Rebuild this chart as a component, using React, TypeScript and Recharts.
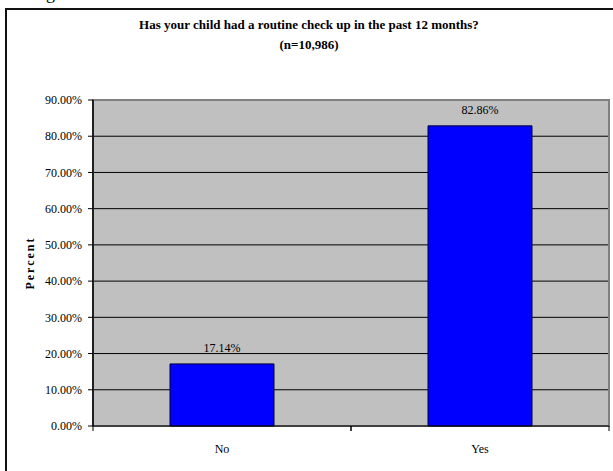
import React from 'react';
import { BarChart, Bar, XAxis, YAxis, CartesianGrid, LabelList, ReferenceArea } from 'recharts';

const categories = ['No', 'Yes'];
const percentValues = [17.14, 82.86];
const yTicks = [0, 10, 20, 30, 40, 50, 60, 70, 80, 90];
const gridValues = [10, 20, 30, 40, 50, 60, 70, 80];
const titleLines = ['Has your child had a routine check up in the past 12 months?', '(n=10,986)'];
const yAxisTitle = 'Percent';

const data = categories.map((c, i) => ({ cat: c, value: percentValues[i] }));

const FONT = "'Liberation Serif', 'DejaVu Serif', serif";

const CategoryTick = (props: any) => {
  const { x, y, payload } = props;
  const half = payload && payload.offset ? payload.offset : (props.width ?? 516) / (2 * categories.length);
  return (
    <g>
      <line x1={x - half} x2={x - half} y1={y} y2={y + 5} stroke="#000" strokeWidth={1} />
      <line x1={x + half} x2={x + half} y1={y} y2={y + 5} stroke="#000" strokeWidth={1} />
      <text x={x} y={y + 18} dy="0.71em" textAnchor="middle" fontFamily={FONT} fontSize={12} fill="#000">
        {payload.value}
      </text>
    </g>
  );
};

const PercentLabel = (props: any) => {
  const vb = props.viewBox || { x: 0, y: 100, width: 93, height: 326 };
  const cx = vb.x + 30;
  const cy = vb.y + vb.height / 2;
  return (
    <text
      x={cx}
      y={cy}
      transform={`rotate(-90, ${cx}, ${cy})`}
      textAnchor="middle"
      dominantBaseline="central"
      fontFamily={FONT}
      fontWeight="bold"
      fontSize={12}
      letterSpacing={2}
      fill="#000"
    >
      {yAxisTitle}
    </text>
  );
};

export default function App() {
  return (
    <div style={{ position: 'absolute', left: 0, top: 0, width: 613, height: 471, overflow: 'hidden', background: '#fff' }}>
      <svg width={613} height={20} style={{ position: 'absolute', left: 0, top: 0 }}>
        <text x={46} y={-1} fontFamily={FONT} fontSize={18} fill="#000">g</text>
      </svg>
      <div
        style={{
          position: 'absolute',
          left: 5,
          top: 8,
          width: 640,
          height: 500,
          border: '2px solid #111',
          boxSizing: 'border-box',
        }}
      />
      <div
        style={{
          position: 'absolute',
          left: 5,
          top: 15,
          width: 608,
          textAlign: 'center',
          fontFamily: FONT,
          fontWeight: 'bold',
          fontSize: 13,
          lineHeight: '20px',
          color: '#000',
        }}
      >
        <div>{titleLines[0]}</div>
        <div>{titleLines[1]}</div>
      </div>
      <div style={{ position: 'absolute', left: 0, top: 0 }}>
        <BarChart
          width={613}
          height={471}
          data={data}
          margin={{ top: 100, right: 4, bottom: 15, left: 0 }}
        >
          <CartesianGrid
            vertical={false}
            horizontalValues={gridValues}
            stroke="#000"
            strokeWidth={1}
            fill="#C0C0C0"
            fillOpacity={1}
          />
          <ReferenceArea y1={0} y2={90} fill="none" stroke="#808080" strokeWidth={2} ifOverflow="extendDomain" />
          <XAxis
            dataKey="cat"
            height={30}
            tickLine={false}
            tickSize={0}
            tickMargin={0}
            axisLine={{ stroke: '#000', strokeWidth: 1 }}
            tick={<CategoryTick />}
            interval={0}
          />
          <YAxis
            width={93}
            domain={[0, 90]}
            ticks={yTicks}
            interval={0}
            tickSize={5}
            tickMargin={6}
            tickLine={{ stroke: '#000' }}
            axisLine={{ stroke: '#000', strokeWidth: 1.5 }}
            tickFormatter={(v: number) => v.toFixed(2) + '%'}
            tick={{ fontFamily: FONT, fontSize: 12, fill: '#000' }}
            label={<PercentLabel />}
          />
          <Bar dataKey="value" fill="#0000FF" stroke="#000033" strokeWidth={1} barSize={104} isAnimationActive={false}>
            <LabelList
              dataKey="value"
              position="top"
              offset={12}
              formatter={(v: any) => Number(v).toFixed(2) + '%'}
              style={{ fontFamily: FONT, fontSize: 12, fill: '#000' }}
            />
          </Bar>
        </BarChart>
      </div>
    </div>
  );
}
